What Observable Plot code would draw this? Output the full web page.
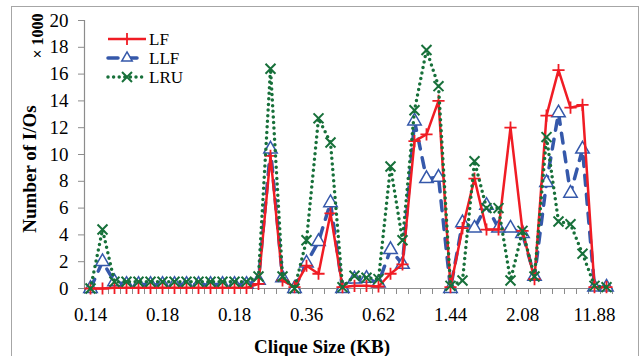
<!DOCTYPE html>
<html><head><meta charset="utf-8">
<script src="https://cdn.jsdelivr.net/npm/d3@7"></script>
<script src="https://cdn.jsdelivr.net/npm/@observablehq/plot@0.6"></script>
<style>
body{margin:0;background:#fff;}
#wrap{position:relative;width:642px;height:356px;overflow:hidden;font-family:"Liberation Serif",serif;}
#frame{position:absolute;left:11px;top:6px;width:628px;height:420px;border:1px solid #a6a6a6;box-sizing:border-box;}
#chart{position:absolute;left:0;top:0;}
</style></head><body><div id="wrap"><div id="frame"></div><div id="chart"></div></div>
<script>
// x tick labels (every 6th category)
const xLabels = ["0.14","0.18","0.18","0.36","0.62","1.44","2.08","11.88"];
const labelStep = 6;
const yTicks = [0,2,4,6,8,10,12,14,16,18,20];
const seriesNames = ["LF","LLF","LRU"];
// values in thousands of I/Os, 44 categories
const lf  = [0,0,0.05,0.05,0.05,0.05,0.05,0.05,0.05,0.05,0.05,0.05,0.05,0.05,0.35,9.9,0.6,0.1,1.7,1.1,5.6,0.1,0.2,0.2,0.15,1.1,1.8,11.0,11.5,14.0,0.1,4.5,8.2,4.4,4.4,12.0,4.3,0.7,12.9,16.3,13.5,13.7,0.1,0.1];
const llf = [0,2.0,0.5,0.3,0.3,0.3,0.3,0.3,0.3,0.3,0.3,0.3,0.3,0.3,0.6,10.4,0.8,0,1.9,3.5,6.4,0,0.7,0.75,0.4,2.9,1.8,12.5,8.2,8.3,0,4.9,4.5,6.2,4.5,4.5,4.1,0.9,7.9,13.1,7.1,10.4,0.1,0.1];
const lru = [0,4.4,0.5,0.5,0.5,0.5,0.5,0.5,0.5,0.5,0.5,0.5,0.5,0.5,0.9,16.4,0.9,0,3.6,12.7,10.9,0.1,0.95,0.8,0.7,9.1,3.6,13.3,17.8,15.1,0.2,0.6,9.5,6.0,6.0,0.6,4.3,0.9,11.3,5.0,4.8,2.6,0.2,0.1];

const styles = {
  LF:  {color:"#f01c24", width:2.5, dash:null, cap:"butt", symbol:"plus", r:4, fill:"none", sw:1.8},
  LLF: {color:"#3558aa", width:3.5, dash:"10,9", cap:"round", symbol:"triangle", r:5, fill:"white", sw:1.5},
  LRU: {color:"#17703a", width:3.5, dash:"0,5.6", cap:"round", symbol:"times", r:4.6, fill:"none", sw:2}
};
const values = {LF:lf, LLF:llf, LRU:lru};
const n = lf.length;
const rows = name => values[name].map((v,i)=>({series:name,i,v}));
const boundaries = d3.range(n+1).map(k=>k-0.5);
const labelTicks = xLabels.map((_,k)=>k*labelStep);

const seriesMarks = name => {
  const s = styles[name], d = rows(name);
  return [
    Plot.line(d, {x:"i", y:"v", stroke:s.color, strokeWidth:s.width, strokeDasharray:s.dash, strokeLinecap:s.cap, strokeLinejoin:"round"}),
    Plot.dot(d, {x:"i", y:"v", symbol:s.symbol, r:s.r, stroke:s.color, fill:s.fill, strokeWidth:s.sw})
  ];
};

const chart = Plot.plot({
  width:642, height:356,
  marginLeft:84, marginRight:30, marginTop:20, marginBottom:68,
  style:{fontFamily:"'Liberation Serif', serif", fontSize:"19px", background:"transparent", color:"#000", overflow:"visible"},
  x:{domain:[-0.5, n-0.5]},
  y:{domain:[0,20]},
  marks:[
    Plot.axisY({ticks:yTicks, tickSize:6, tickPadding:10, stroke:"#8c8c8c", fill:"#000", label:null, fontSize:19}),
    Plot.axisX({ticks:boundaries, tickFormat:()=>"", tickSize:6, stroke:"#8c8c8c", label:null}),
    Plot.axisX({ticks:labelTicks, tickFormat:d=>xLabels[Math.round(d/labelStep)], tickSize:0, tickPadding:19, fill:"#000", label:null, fontSize:19}),
    Plot.ruleX([-0.5], {stroke:"#8c8c8c", strokeWidth:1.2}),
    Plot.ruleY([0], {stroke:"#8c8c8c", strokeWidth:1.2}),
    ...seriesMarks("LLF"),
    ...seriesMarks("LF"),
    ...seriesMarks("LRU")
  ]
});
document.getElementById("chart").appendChild(chart);

const svg = d3.select(chart);
// axis titles
svg.append("text").attr("transform","translate(36,169) rotate(-90)").attr("text-anchor","middle")
  .style("font-weight","bold").style("font-size","19px").attr("fill","#000").text("Number of I/Os");
svg.append("text").attr("transform","translate(43,36) rotate(-90)").attr("text-anchor","middle")
  .style("font-weight","bold").style("font-size","16px").attr("fill","#000").text("× 1000");
svg.append("text").attr("x",322).attr("y",353).attr("text-anchor","middle")
  .style("font-weight","bold").style("font-size","19px").attr("fill","#000").text("Clique Size (KB)");

// legend
const symMap = {plus:d3.symbolPlus, triangle:d3.symbolTriangle2, times:d3.symbolTimes};
const lg = svg.append("g");
seriesNames.forEach((name,k)=>{
  const s = styles[name];
  const y = 39 + k*19;
  const g = lg.append("g").attr("transform",`translate(0,${y})`);
  g.append("line").attr("x1",108).attr("x2",146).attr("y1",0).attr("y2",0)
    .attr("stroke",s.color).attr("stroke-width",s.width).attr("stroke-dasharray",s.dash)
    .attr("stroke-linecap",s.cap);
  g.append("path").attr("transform","translate(127,0)")
    .attr("d", d3.symbol(symMap[s.symbol], Math.PI*s.r*s.r)())
    .attr("stroke",s.color).attr("fill",s.fill==="none"?"none":"white").attr("stroke-width",s.sw);
  g.append("text").attr("x",149).attr("y",0).attr("dy","0.35em").attr("text-anchor","start")
    .style("font-size","17px").attr("fill","#000").text(name);
});
// force serif font on every text element
svg.selectAll("text").style("font-family","'Liberation Serif', serif","important");
svg.selectAll("g[aria-label='x-axis tick label'] text, g[aria-label='y-axis tick label'] text").style("font-size","19px","important");
</script>
</body></html>
